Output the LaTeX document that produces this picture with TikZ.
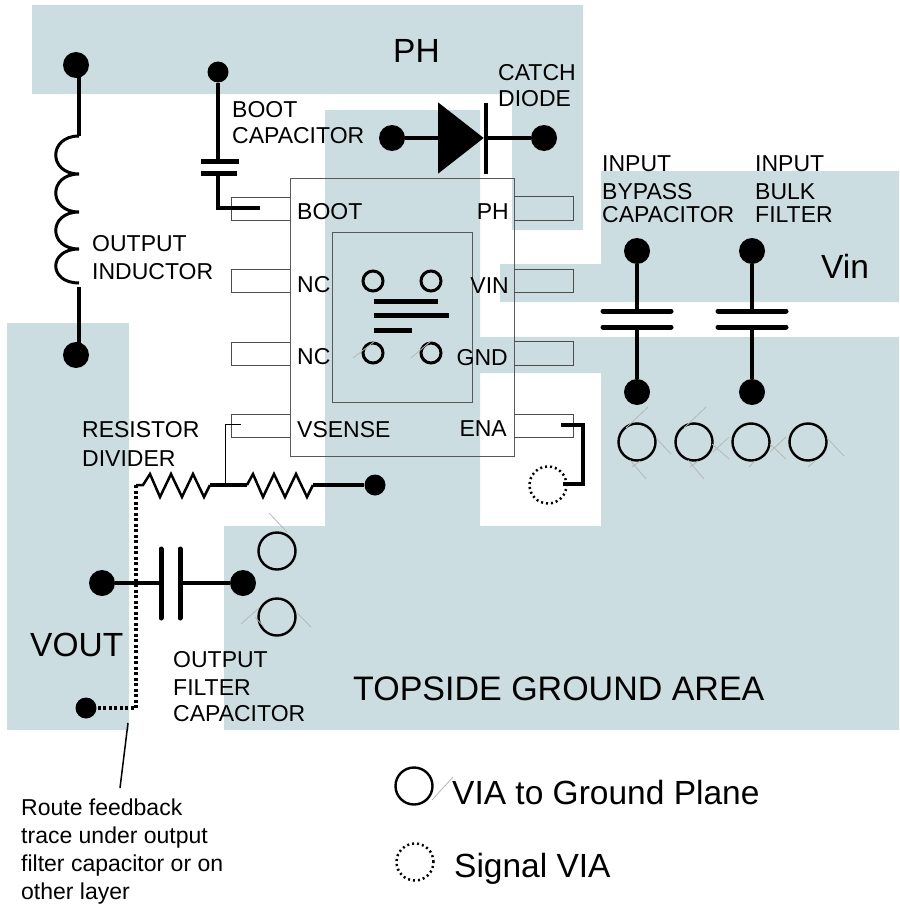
\documentclass[tikz,border=0pt]{standalone}
\usepackage{fontspec}
\setmainfont{Liberation Sans}
\usetikzlibrary{shapes,arrows}
\definecolor{copper}{HTML}{CCDDE1}
\definecolor{hairgrey}{HTML}{B4B8B8}
\tikzstyle{plane} = [fill=copper, even odd rule]
\tikzstyle{outline} = [draw=black!65, line width=1pt]
\tikzstyle{pinbox} = [draw=black!70, line width=1pt]
\tikzstyle{bigdot} = [circle, fill=black, inner sep=0pt, minimum size=26pt]
\tikzstyle{smalldot} = [circle, fill=black, inner sep=0pt, minimum size=21pt]
\tikzstyle{via} = [circle, draw, line width=2.4pt, inner sep=0pt, minimum size=37pt]
\tikzstyle{padvia} = [circle, draw, line width=3pt, inner sep=0pt, minimum size=20pt]
\tikzstyle{sigvia} = [circle, draw, line width=2.5pt, dash pattern=on 2pt off 3pt, inner sep=0pt, minimum size=37pt]
\tikzstyle{wire} = [line width=4.5pt]
\tikzstyle{plate} = [line width=5pt, line cap=round]
\tikzstyle{bar} = [line width=5pt]
\tikzstyle{dotwire} = [line width=3.5pt, dash pattern=on 3pt off 2.5pt]
\tikzstyle{hair} = [draw=hairgrey, line width=0.8pt]
\tikzstyle{small} = [inner sep=0pt, align=left, anchor=north west, font=\fontsize{23}{26}\selectfont]
\tikzstyle{pinname} = [inner sep=0pt, anchor=base, font=\fontsize{23}{26}\selectfont]
\tikzstyle{big} = [inner sep=0pt, anchor=base west, font=\fontsize{33.5}{38}\selectfont]
\begin{document}
\begin{tikzpicture}[x=1pt,y=-1pt]
   \useasboundingbox (0,0) rectangle (899,907);
   \fill[plane] (32,5) -- (583,5) -- (583,230) -- (512,230) -- (512,94) -- (32,94) -- cycle;
   \fill[plane] (500,264) -- (601,264) -- (601,171) -- (899,171) -- (899,302) -- (500,302) -- cycle;
   \fill[plane] (7,323) rectangle (129,730);
   \fill[plane] (325,110) -- (480,110) -- (480,337) -- (899,337) -- (899,730) -- (224,730) -- (224,526) -- (325,526) -- cycle
                (480,373) rectangle (601,526);
   \draw[outline] (290,178) rectangle (514,456);
   \draw[outline] (332,232) rectangle (472,402);
   \draw[pinbox] (290,197) -- (231,197) -- (231,220) -- (290,220);
   \draw[pinbox] (290,269) -- (231,269) -- (231,292) -- (290,292);
   \draw[pinbox] (290,342) -- (231,342) -- (231,365) -- (290,365);
   \draw[pinbox] (290,414) -- (231,414) -- (231,437) -- (290,437);
   \draw[pinbox] (514,196) -- (573,196) -- (573,220) -- (514,220);
   \draw[pinbox] (514,269) -- (573,269) -- (573,292) -- (514,292);
   \draw[pinbox] (514,341) -- (573,341) -- (573,365) -- (514,365);
   \draw[pinbox] (514,414) -- (573,414) -- (573,437) -- (514,437);

   \node[bigdot] (indtop) at (76,65) {};
   \node[bigdot] (indbot) at (76,355) {};
   \coordinate (coiltop) at (79,136);
   \coordinate (coilbot) at (79,287);
   \draw[wire] (coiltop |- indtop) -- (coiltop);
   \draw[wire] (coilbot) -- (coilbot |- indbot);
   \draw[line width=3pt] (coiltop) .. controls (48,136) and (48,174) .. (79,174)
      .. controls (48,174) and (48,212) .. (79,212)
      .. controls (48,212) and (48,249) .. (79,249)
      .. controls (48,249) and (48,283) .. (79,283);

   \node[smalldot] (boottop) at (218,72) {};
   \coordinate (bootcapa) at (218,161);
   \coordinate (bootcapb) at (218,173);
   \coordinate (bootend) at (260,208);
   \draw[line width=4pt] (boottop) -- (bootcapa);
   \draw[line width=4pt] (bootcapb) |- (bootend);
   \draw[bar] (201,161) -- (239,161);
   \draw[bar] (201,173) -- (237,173);

   \node[bigdot] (dioda) at (392,138) {};
   \node[bigdot] (diodk) at (544,138) {};
   \node[isosceles triangle, fill=black, inner sep=0pt, minimum height=45pt, minimum width=71pt, isosceles triangle apex angle=76, anchor=apex] (diode) at (484,138) {};
   \coordinate (diodbar) at (486,138);
   \draw[wire] (dioda) -- (diode);
   \draw[wire] (diodbar) -- (diodk);
   \draw[line width=4pt] (486,103) -- (486,174);

   \node[bigdot] (intopa) at (637,251) {};
   \node[bigdot] (inbota) at (637,392) {};
   \node[bigdot] (intopb) at (752,251) {};
   \node[bigdot] (inbotb) at (752,392) {};
   \coordinate (incapa) at (637,311);
   \coordinate (incapb) at (637,327);
   \coordinate (incapc) at (752,311);
   \coordinate (incapd) at (752,327);
   \draw[wire] (intopa) -- (incapa);
   \draw[wire] (incapb) -- (inbota);
   \draw[wire] (intopb) -- (incapc);
   \draw[wire] (incapd) -- (inbotb);
   \draw[plate] (603,311) -- (671,311);
   \draw[plate] (603,327) -- (671,327);
   \draw[plate] (718,311) -- (786,311);
   \draw[plate] (718,327) -- (786,327);

   \node[via] (viaa) at (637,442) {};
   \node[via] (viab) at (694,442) {};
   \node[via] (viac) at (751,442) {};
   \node[via] (viad) at (808,442) {};
   \draw[hair] (648,407) -- (626,428) (630,460) -- (646,479) (657,439) -- (671,454) (640,461) -- (632,467);
   \draw[hair] (706,407) -- (684,428) (688,460) -- (704,479) (712,444) -- (729,459) (729,437) -- (713,452) (698,461) -- (690,467);
   \draw[hair] (770,444) -- (786,459) (786,437) -- (770,452) (755,461) -- (749,467);
   \draw[hair] (827,438) -- (844,456) (815,461) -- (808,467);

   \node[padvia] (pada) at (373,281) {};
   \node[padvia] (padb) at (431,281) {};
   \node[padvia] (padc) at (373,353) {};
   \node[padvia] (padd) at (431,353) {};
   \draw[hair] (353,358) -- (375,341) (411,358) -- (431,341);
   \draw[bar] (374,301) -- (438,301);
   \draw[bar] (374,315.5) -- (449,315.5);
   \draw[bar] (374,330) -- (412,330);

   \node[sigvia] (sigena) at (548,485) {};
   \coordinate (enapin) at (561,425);
   \coordinate (enacorner) at (583,425);
   \coordinate (enaend) at (563,484);
   \draw[line width=4pt] (enapin) -- (enacorner) |- (enaend);

   \node[smalldot] (divend) at (375,485) {};
   \node[smalldot] (fbend) at (86,708) {};
   \coordinate (fbcorner) at (136,708);
   \coordinate (fbtop) at (136,485);
   \coordinate (divmid) at (225,485);
   \coordinate (vsensepin) at (241,424);
   \draw[line width=1pt] (vsensepin) -| (divmid);
   \draw[line width=2.5pt] (fbtop) -- (143,485) -- (150,474) -- (160,497) -- (171,474) -- (182,497) -- (193,474) -- (204,497) -- (210,485);
   \draw[wire] (210,485) -- (247,485);
   \draw[line width=2.5pt] (247,485) -- (253,474) -- (263,497) -- (274,474) -- (285,497) -- (296,474) -- (307,497) -- (313,485);
   \draw[wire] (313,485) -- (divend);
   \draw[dotwire] (fbtop) -- (fbcorner) -- (fbend);

   \node[bigdot] (outa) at (102,583) {};
   \node[bigdot] (outb) at (243,583) {};
   \coordinate (outcapa) at (161,583);
   \coordinate (outcapb) at (180,583);
   \draw[wire] (outa) -- (outcapa);
   \draw[wire] (outcapb) -- (outb);
   \draw[plate] (161,549) -- (161,618);
   \draw[plate] (180,549) -- (180,618);
   \node[via] (viae) at (277,551) {};
   \node[via] (viaf) at (277,617) {};
   \draw[hair] (269,513) -- (287,532) (241,624) -- (259,608) (297,613) -- (311,627) (255,617) -- (264,627);

   \coordinate (noteend) at (120,788);
   \coordinate (notestart) at (128,723);
   \draw[line width=1.5pt] (notestart) -- (noteend);

   \node[small] (lboot) at (232,101) {BOOT\\CAPACITOR};
   \node[small] (lind) at (92,235) {OUTPUT\\[2pt]INDUCTOR};
   \node[small] (lcatch) at (498,64) {CATCH\\DIODE};
   \node[small] (lbypass) at (602,155) {INPUT\\[2pt]BYPASS\\[-2.5pt]CAPACITOR};
   \node[small] (lbulk) at (755,155) {INPUT\\[2pt]BULK\\[-2.5pt]FILTER};
   \node[small] (ldiv) at (82,421) {RESISTOR\\[3pt]DIVIDER};
   \node[small] (lfilter) at (173,651) {OUTPUT\\[2pt]FILTER\\CAPACITOR};
   \node[small] (lnote) at (21,799) {Route feedback\\[2pt]trace under output\\[2pt]filter capacitor or on\\[2pt]other layer};

   \node[pinname, anchor=base west] (nboot) at (297,219) {BOOT};
   \node[pinname, anchor=base west] (nnca) at (297,292) {NC};
   \node[pinname, anchor=base west] (nncb) at (297,364) {NC};
   \node[pinname, anchor=base west] (nvsense) at (297,437) {VSENSE};
   \node[pinname, anchor=base east] (nph) at (509,219) {PH};
   \node[pinname, anchor=base east] (nvin) at (509,293) {VIN};
   \node[pinname, anchor=base east] (ngnd) at (508,365) {GND};
   \node[pinname, anchor=base east] (nena) at (507,436) {ENA};

   \node[big] (lph) at (393,63) {PH};
   \node[big] (lvin) at (821,278) {Vin};
   \node[big] (lvout) at (30,656) {VOUT};
   \node[big, font=\fontsize{34}{38}\selectfont] (lgnd) at (353,700) {TOPSIDE GROUND AREA};

   \node[via] (legvia) at (414,786) {};
   \draw[hair] (432,800) -- (453,777);
   \node[big] (lvia) at (452,804) {VIA to Ground Plane};
   \node[sigvia] (legsig) at (415,862) {};
   \node[big] (lsig) at (454,877) {Signal VIA};
\end{tikzpicture}
\end{document}
